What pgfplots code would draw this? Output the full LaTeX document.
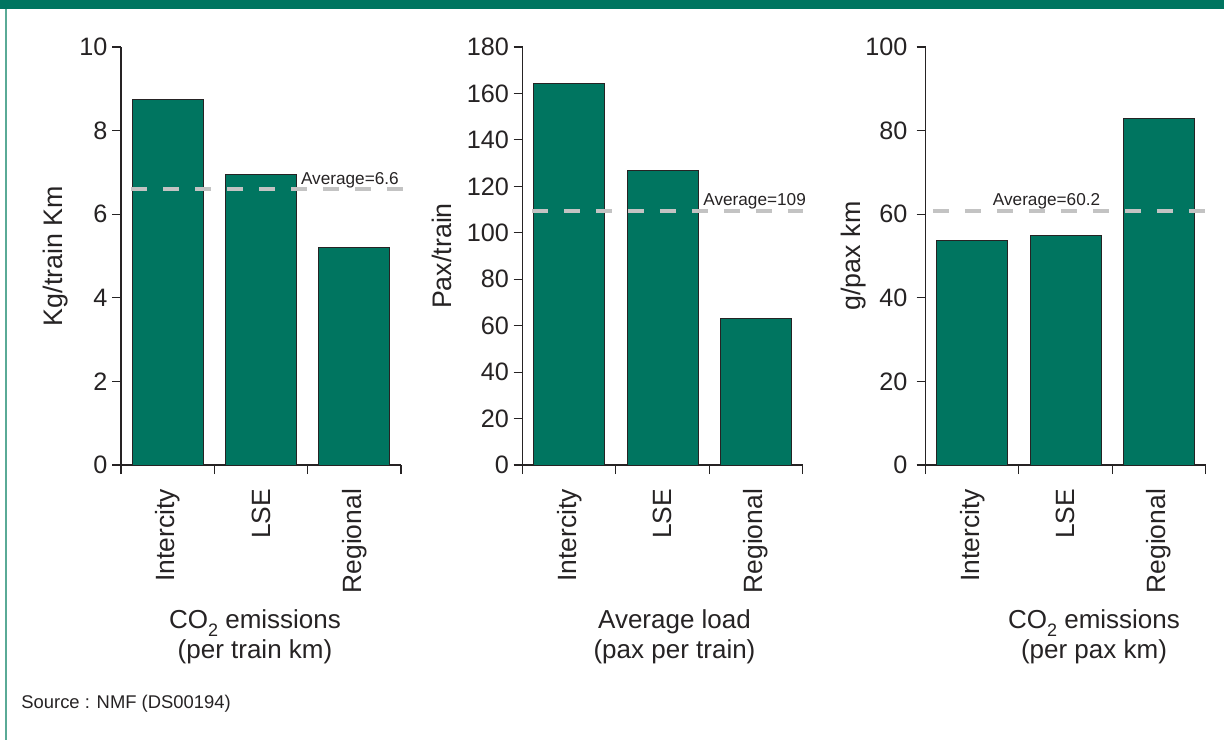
\documentclass[border=0pt]{standalone}
\usepackage{fontspec}
\setmainfont{Liberation Sans}
\usepackage{pgfplots}
\pgfplotsset{compat=1.18}

\definecolor{rail}{RGB}{0,117,96}
\definecolor{railedge}{RGB}{90,170,150}
\definecolor{avg}{RGB}{195,195,195}
\definecolor{ink}{RGB}{38,35,36}

\newcommand\fs[1]{\fontsize{#1}{#1}\selectfont}
\newcommand\COtwo{CO\raisebox{-4pt}{\fs{9}2} }

\pgfplotsset{
  railaxis/.style={
    scale only axis, width=140pt, height=209pt, anchor=south west,
    axis lines=left, axis line style={-, ink, line width=0.6pt},
    tick align=outside, major tick length=4.5pt,
    tick style={ink, line width=0.6pt},
    xmin=0, xmax=3, xtick={0,1,2,3}, x tick label as interval,
    xticklabels={Intercity,LSE,Regional},
    xticklabel style={yshift=-4pt, rotate=90, anchor=east, font=\fs{13.2}, text=ink},
    ymin=0, clip=false,
    /pgf/number format/assume math mode=true,
    yticklabel style={font=\fs{12.6}, text=ink},
    ylabel style={font=\fs{13.4}, text=ink, anchor=center},
  },
  bars/.style={ybar, bar width=35.5pt, fill=rail, draw=ink, line width=0.5pt},
  avgline/.style={avg, line width=2.2pt, dash pattern=on 8pt off 8pt, no marks},
}
\tikzset{avglabel/.style={anchor=base east, inner sep=0pt, yshift=2.5pt, font=\fs{8.6}, text=ink}}

\begin{document}
\begin{tikzpicture}
\fill[white] (0,0) rectangle (612pt,-370pt);
\path[use as bounding box] (0,0) rectangle (612pt,-370pt);
\fill[rail] (0,0) rectangle (612pt,-4.35pt);
\fill[railedge] (2.5pt,-4.35pt) rectangle (3.5pt,-370pt);

% CO2 per train km
\begin{axis}[railaxis, at={(60.5pt,-232.5pt)},
  ymax=10, ytick={0,2,4,6,8,10},
  yticklabel style={xshift=1.2pt},
  ylabel={Kg/train Km}, ylabel style={at={(axis description cs:-0.233,0.5)}}]
\addplot[bars] coordinates {(0.5,8.75) (1.5,6.95) (2.5,5.2)};
\addplot[avgline] coordinates {(0.11,6.6) (3.04,6.6)};
\node[avglabel] at (axis cs:2.98,6.6) {Average=6.6};
\end{axis}

% average load
\begin{axis}[railaxis, at={(261.25pt,-232.5pt)},
  ymax=180, ytick={0,20,...,180},
  yticklabel style={xshift=1.2pt},
  ylabel={Pax/train}, ylabel style={at={(axis description cs:-0.287,0.5)}}]
\addplot[bars] coordinates {(0.5,164.5) (1.5,126.7) (2.5,63)};
\addplot[avgline] coordinates {(0.1,109.5) (3.01,109.5)};
\node[avglabel] at (axis cs:3.04,109.5) {Average=109};
\end{axis}

% CO2 per pax km
\begin{axis}[railaxis, at={(462.75pt,-232.5pt)},
  ymax=100, ytick={0,20,...,100},
  yticklabel style={xshift=-1pt},
  ylabel={g/pax km}, ylabel style={at={(axis description cs:-0.256,0.5)}}]
\addplot[bars] coordinates {(0.5,53.8) (1.5,55) (2.5,83)};
\addplot[avgline] coordinates {(0.08,60.8) (2.99,60.8)};
\node[avglabel] at (axis cs:1.876,60.8) {Average=60.2};
\end{axis}

\begin{scope}[every node/.style={anchor=base, inner sep=0pt, font=\fs{13}, text=ink}]
\node at (127.5pt,-314pt) {\COtwo emissions};
\node at (127.5pt,-329pt) {(per train km)};
\node at (337.25pt,-314pt) {Average load};
\node at (337.25pt,-329pt) {(pax per train)};
\node at (547pt,-314pt) {\COtwo emissions};
\node at (547pt,-329pt) {(per pax km)};
\end{scope}

\node[anchor=base west, inner sep=0pt, font=\fs{9.2}, text=ink] at (10.5pt,-354pt) {Source : NMF (DS00194)};
\end{tikzpicture}
\end{document}
